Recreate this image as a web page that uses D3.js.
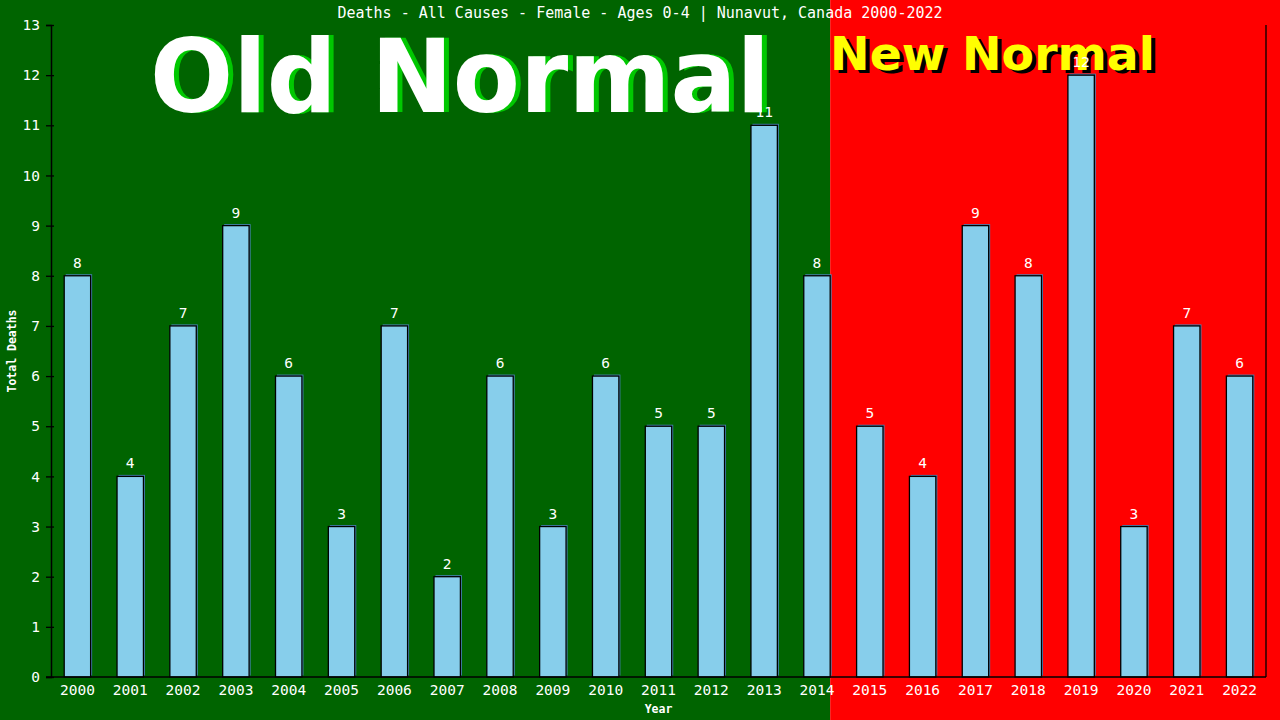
<!DOCTYPE html>
<html>
<head>
<meta charset="utf-8">
<script src="https://cdn.jsdelivr.net/npm/d3@7"></script>
<style>
  body { margin: 0; background: #fff; }
  svg { display: block; }
  .mono { font-family: "DejaVu Sans Mono", monospace; fill: #fff; }
</style>
</head>
<body>
<svg id="chart" width="1280" height="720"></svg>
<script>
const years = ["2000","2001","2002","2003","2004","2005","2006","2007","2008","2009","2010","2011",
  "2012","2013","2014","2015","2016","2017","2018","2019","2020","2021","2022"];
const deaths = [8,4,7,9,6,3,7,2,6,3,6,5,5,11,8,5,4,9,8,12,3,7,6];
const yTicks = [0,1,2,3,4,5,6,7,8,9,10,11,12,13];
const lastOldYear = "2014";

const svg = d3.select("#chart");
const W = 1280, H = 720;
const m = {left: 51, right: 14, top: 25, bottom: 43};

const x = d3.scaleBand().domain(years).range([m.left, W - m.right]).paddingInner(0.5).paddingOuter(0.25);
const y = d3.scaleLinear().domain([0, 13]).range([H - m.bottom, m.top]);

// background split: old normal up to the end of the 2014 bar
const split = x(lastOldYear) + x.bandwidth();
svg.append("rect").attr("x", 0).attr("y", 0).attr("width", split).attr("height", H).attr("fill", "#006400");
svg.append("rect").attr("x", split).attr("y", 0).attr("width", W - split).attr("height", H).attr("fill", "#ff0000");

// big labels
const bigText = (txt, xx, yy, size, len, fill, shadow, dx, dy) => {
  [[shadow, dx, dy], [fill, 0, 0]].forEach(([c, ox, oy]) => {
    svg.append("text")
      .attr("x", xx + ox).attr("y", yy + oy)
      .attr("font-family", "DejaVu Sans, sans-serif")
      .attr("font-weight", "bold")
      .attr("font-size", size)
      .attr("textLength", len).attr("lengthAdjust", "spacingAndGlyphs")
      .attr("fill", c)
      .text(txt);
  });
};
bigText("Old Normal", 150, 112, 101, 620, "#ffffff", "#00c800", 5, 0);
bigText("New Normal", 830, 70, 46, 325, "#ffff00", "#000000", 4, 3);

// title
svg.append("text").attr("class", "mono")
  .attr("x", 640).attr("y", 18).attr("text-anchor", "middle")
  .attr("font-size", 15)
  .text("Deaths - All Causes - Female - Ages 0-4 | Nunavut, Canada 2000-2022");

// bars
const bars = svg.append("g");
const data = years.map((yr, i) => ({year: yr, v: deaths[i]}));
bars.selectAll("rect.shadow").data(data).join("rect")
  .attr("class", "shadow")
  .attr("x", d => x(d.year) + 1.5).attr("y", d => y(d.v) - 1.5)
  .attr("width", x.bandwidth()).attr("height", d => y(0) - y(d.v))
  .attr("fill", "#4682b4");
bars.selectAll("rect.bar").data(data).join("rect")
  .attr("class", "bar")
  .attr("x", d => x(d.year)).attr("y", d => y(d.v))
  .attr("width", x.bandwidth()).attr("height", d => y(0) - y(d.v))
  .attr("fill", "#87ceeb").attr("stroke", "#000").attr("stroke-width", 1.3);
bars.selectAll("text").data(data).join("text")
  .attr("class", "mono")
  .attr("x", d => x(d.year) + x.bandwidth() / 2).attr("y", d => y(d.v) - 8)
  .attr("text-anchor", "middle").attr("font-size", 14.5)
  .text(d => d.v);

// axes
const yAxis = svg.append("g").attr("transform", `translate(${m.left},0)`)
  .call(d3.axisLeft(y).tickValues(yTicks).tickSize(5).tickPadding(6));
yAxis.select(".domain").attr("stroke", "#000").attr("stroke-width", 1.5);
yAxis.selectAll(".tick line").attr("stroke", "#000").attr("stroke-width", 1.3).attr("x2", -5).attr("x1", 3);
yAxis.selectAll(".tick text").attr("class", "mono").attr("font-size", 14.5).attr("fill", "#fff").attr("x", -11);

const xAxis = svg.append("g").attr("transform", `translate(0,${y(0)})`)
  .call(d3.axisBottom(x).tickSize(0).tickPadding(8));
xAxis.select(".domain").attr("stroke", "#000").attr("stroke-width", 1.5).attr("d", `M${m.left - 5},0H${W - m.right}`);
xAxis.selectAll(".tick text").attr("class", "mono").attr("font-size", 14.5).attr("fill", "#fff");

// right border
svg.append("line").attr("x1", W - m.right).attr("x2", W - m.right)
  .attr("y1", y(13)).attr("y2", y(0)).attr("stroke", "#000").attr("stroke-width", 1.3);

// axis titles
svg.append("text").attr("class", "mono")
  .attr("transform", `translate(16,${(y(0) + y(13)) / 2}) rotate(-90)`)
  .attr("text-anchor", "middle").attr("font-size", 11.5).attr("font-weight", "bold")
  .text("Total Deaths");
svg.append("text").attr("class", "mono")
  .attr("x", (m.left + W - m.right) / 2).attr("y", 713)
  .attr("text-anchor", "middle").attr("font-size", 11.5).attr("font-weight", "bold")
  .text("Year");
</script>
</body>
</html>
